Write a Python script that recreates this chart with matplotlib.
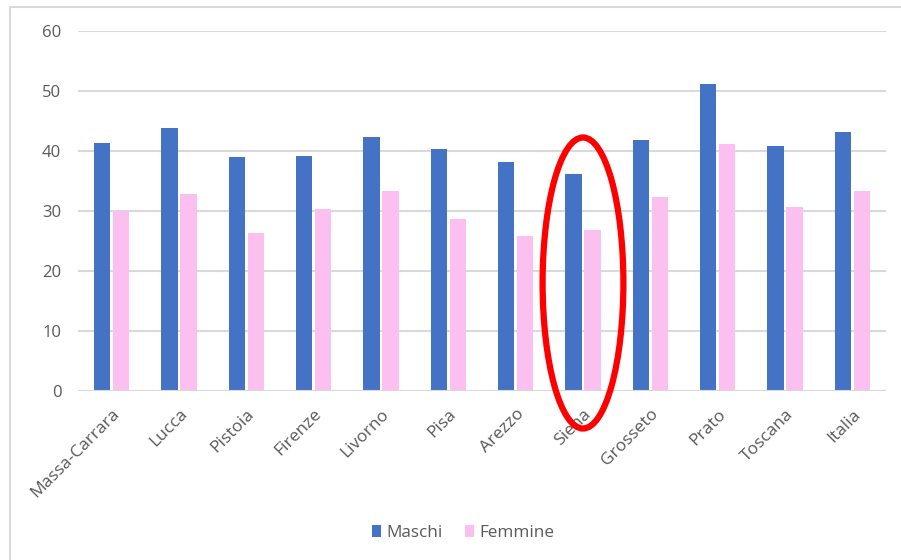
import matplotlib
matplotlib.use("Agg")
import matplotlib.pyplot as plt
from matplotlib.patches import Ellipse, Rectangle
import numpy as np

categories = ["Massa-Carrara", "Lucca", "Pistoia", "Firenze", "Livorno", "Pisa",
              "Arezzo", "Siena", "Grosseto", "Prato", "Toscana", "Italia"]
maschi = [41.4, 43.8, 39.0, 39.2, 42.3, 40.3, 38.1, 36.1, 41.9, 51.1, 40.9, 43.2]
femmine = [30.0, 32.8, 26.3, 30.4, 33.3, 28.7, 25.8, 26.8, 32.3, 41.2, 30.6, 33.4]
y_ticks = [0, 10, 20, 30, 40, 50, 60]
highlight = "Siena"

plt.rcParams['font.family'] = ['Open Sans', 'DejaVu Sans']

W, H = 901, 560
fig = plt.figure(figsize=(W / 100, H / 100), dpi=100)

# outer chart border
fig.patches.append(Rectangle((10 / W, -0.05), 1.2, 1 - 7 / H + 0.05,
                             transform=fig.transFigure, fill=False,
                             edgecolor='#d9d9d9', linewidth=1.5))

ax = fig.add_axes([78 / W, (H - 391) / H, 808 / W, 360 / H])
x = np.arange(len(categories))
bw = 0.24
off = 0.142
ax.bar(x - off, maschi, bw, color='#4472c4', label='Maschi', zorder=3)
ax.bar(x + off, femmine, bw, color='#fbc0f0', label='Femmine', zorder=3)

ax.set_xlim(-0.5, len(categories) - 0.5)
ax.set_ylim(0, 60)
ax.set_yticks(y_ticks)
ax.yaxis.grid(True, color='#d9d9d9', linewidth=1.5, zorder=0)
ax.axhline(0, color='#d9d9d9', linewidth=1.5, zorder=4)
for s in ax.spines.values():
    s.set_visible(False)
ax.tick_params(axis='both', length=0, colors='#595959')
ax.tick_params(axis='y', pad=12, labelsize=12)
ax.set_xticks(x)
ax.set_xticklabels(categories, rotation=45, ha='right', va='top',
                   rotation_mode='anchor')
ax.tick_params(axis='x', pad=11, labelsize=12.5)

# red highlight ellipse around Siena
i = categories.index(highlight)
ax.add_patch(Ellipse((i, 18.0), 1.2, 48.5, fill=False, edgecolor='#ff0000',
                     linewidth=4.5, zorder=5, clip_on=False))

fig.legend(loc='center', bbox_to_anchor=(463 / W, 1 - 533 / H), ncol=2,
           frameon=False, fontsize=12.3, handlelength=0.55, handleheight=0.75,
           handletextpad=0.3, columnspacing=1.3, labelcolor='#595959')

fig.savefig("out.png", dpi=100)
